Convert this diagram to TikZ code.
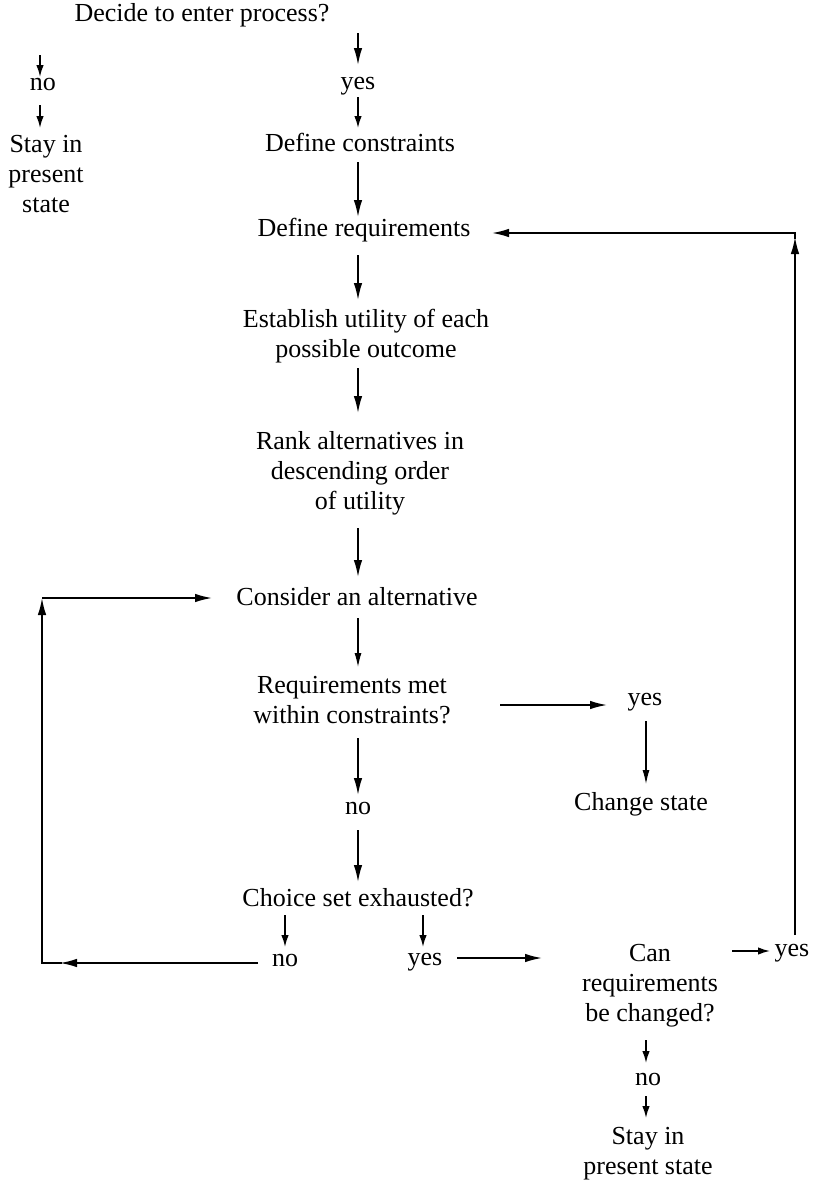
\documentclass[tikz,border=0pt]{standalone}
\usepackage{fontspec}
\setmainfont{Liberation Serif}
\usetikzlibrary{arrows.meta,calc}
\begin{document}
\begin{tikzpicture}[x=1pt,y=-1pt,
  lbl/.style={font=\fontsize{26}{30}\selectfont, inner sep=0pt, align=center},
  arr/.style={line width=1.6pt, -{Latex[length=17pt,width=8.5pt]}},
  shortarr/.style={line width=1.6pt, -{Latex[length=12pt,width=7.5pt]}},
  thinarr/.style={line width=1.1pt, -{Latex[length=14pt,width=7pt]}},
  conn/.style={line width=1.3pt}]
\useasboundingbox (0,0) rectangle (815,1184);

% nodes
\node[lbl] (decide) at (202,15) {Decide to enter process?};
\node[lbl] (no1) at (43,84) {no};
\node[lbl] (stay1) at (46,174) {Stay in\\present\\state};
\node[lbl] (yes1) at (358,86) {yes};
\node[lbl] (cons) at (360,142) {Define constraints};
\node[lbl] (req) at (364,230) {Define requirements};
\node[lbl] (util) at (366,336) {Establish utility of each\\possible outcome};
\node[lbl] (rank) at (360,473) {Rank alternatives in\\descending order\\of utility};
\node[lbl] (consider) at (357,597) {Consider an alternative};
\node[lbl] (met) at (352,700) {Requirements met\\within constraints?};
\node[lbl] (yes2) at (645,702) {yes};
\node[lbl] (change) at (641,804) {Change state};
\node[lbl] (no2) at (358,808) {no};
\node[lbl] (choice) at (358,898) {Choice set exhausted?};
\node[lbl] (no3) at (285,960) {no};
\node[lbl] (yes3) at (425,962) {yes};
\node[lbl] (can) at (650,986) {Can\\requirements\\be changed?};
\node[lbl] (yes4) at (792,953) {yes};
\node[lbl] (no4) at (648,1079) {no};
\node[lbl] (stay2) at (648,1154) {Stay in\\present state};

% vertical arrows
\draw[shortarr] ($(decide.center -| no1)+(-3,40)$) -- ($(no1.center)+(-3,-7)$);
\draw[shortarr] ($(no1.center)+(-3,21)$) -- ($(stay1.center)+(-6,-46)$);
\draw[arr] ($(decide.center -| yes1)+(0,18)$) -- ($(yes1.center)+(0,-21)$);
\draw[shortarr] ($(yes1.center)+(0,11)$) -- ($(cons.center)+(-2,-14)$);
\draw[arr] ($(cons.center)+(-2,20)$) -- ($(req.center)+(-6,-13)$);
\draw[arr] ($(req.center)+(-6,25)$) -- ($(util.center)+(-8,-36)$);
\draw[arr] ($(util.center)+(-8,32)$) -- ($(rank.center)+(-2,-60)$);
\draw[arr] ($(rank.center)+(-2,55)$) -- ($(consider.center)+(1,-20)$);
\draw[thinarr] ($(consider.center)+(1,21)$) -- ($(met.center)+(6,-33)$);
\draw[arr] ($(met.center)+(6,38)$) -- ($(no2.center)+(0,-13)$);
\draw[arr] ($(no2.center)+(0,22)$) -- ($(choice.center)+(0,-16)$);
\draw[shortarr] ($(choice.center -| no3)+(0,17)$) -- ($(no3.center)+(0,-13)$);
\draw[shortarr] ($(choice.center -| yes3)+(-2,17)$) -- ($(yes3.center)+(-2,-15)$);
\draw[thinarr] ($(yes2.center)+(1,19)$) -- ($(change.center)+(5,-20)$);
\draw[shortarr] ($(can.center)+(-4,54)$) -- ($(no4.center)+(-2,-16)$);
\draw[shortarr] ($(no4.center)+(-2,17)$) -- ($(stay2.center)+(-2,-36)$);

% horizontal arrows
\draw[arr] ($(met.center)+(148,5)$) -- ($(yes2.center)+(-38,3)$);
\draw[arr] ($(yes3.center)+(32,-4)$) -- ($(can.center)+(-108,-28)$);
\draw[shortarr] ($(can.center)+(82,-35)$) -- ($(yes4.center)+(-22,-2)$);

% right loop
\coordinate (rtop) at (795,233);
\draw[arr] ($(yes4.center)+(3,-18)$) -- ($(rtop)+(0,4)$);
\draw[arr] ($(rtop)+(0,6)$) -- (rtop) -- ($(req.center)+(128,3)$);

% left loop
\coordinate (lbot) at (42,963);
\coordinate (ltop) at (42,598);
\draw[arr] ($(no3.center)+(-27,3)$) -- ($(lbot)+(18,0)$);
\draw[arr] ($(lbot)+(20,0)$) -- (lbot) -- (ltop);
\draw[arr] (ltop) -- ($(consider.center)+(-145,1)$);
\end{tikzpicture}
\end{document}
